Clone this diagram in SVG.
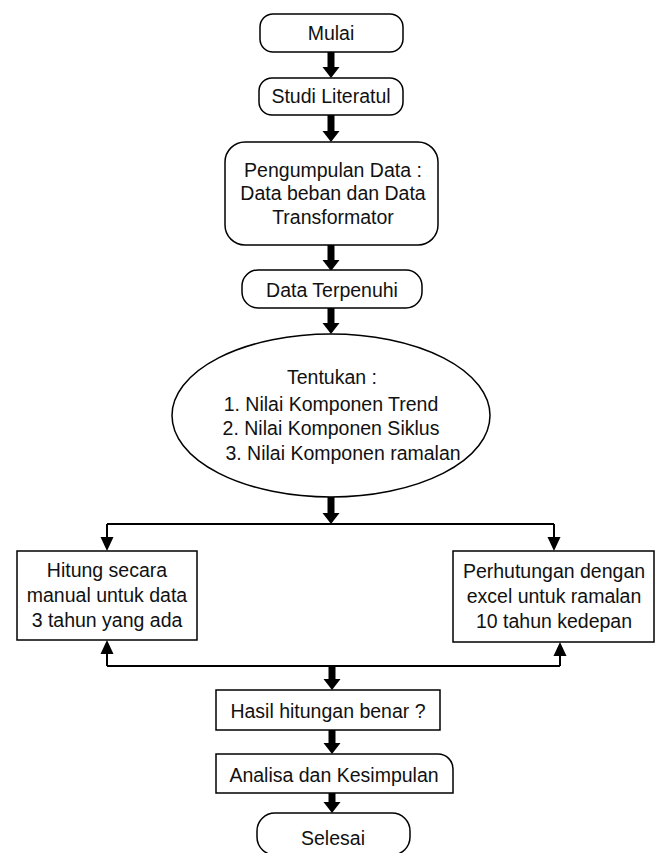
<svg xmlns="http://www.w3.org/2000/svg" width="662" height="853" viewBox="0 0 662 853">
<defs>
<style>
.box{fill:#fff;stroke:#000;stroke-width:1.5}
.t{font-family:"Liberation Sans",Arial,sans-serif;font-size:19.5px;fill:#111;text-anchor:middle}
.thick{stroke:#000;stroke-width:7;fill:none}
.thin{stroke:#000;stroke-width:2;fill:none}
.head{fill:#000}
</style>
</defs>
<rect width="662" height="853" fill="#fff"/>

<g id="connectors">
<path class="thick" d="M331,52 V68"/><path class="head" d="M322.5,67 H339.5 L331,78 Z"/>
<path class="thick" d="M331,115 V132"/><path class="head" d="M322.5,131 H339.5 L331,142 Z"/>
<path class="thick" d="M331,245 V261"/><path class="head" d="M322.5,260 H339.5 L331,271 Z"/>
<path class="thick" d="M331,308 V324"/><path class="head" d="M322.5,323 H339.5 L331,334 Z"/>
<path class="thick" d="M331,497 V514"/><path class="head" d="M322.5,513 H339.5 L331,524 Z"/>
<path class="thick" d="M332,666 V680"/><path class="head" d="M323.5,679 H340.5 L332,690 Z"/>
<path class="thick" d="M332,730 V744"/><path class="head" d="M323.5,743 H340.5 L332,754 Z"/>
<path class="thick" d="M332,793 V803"/><path class="head" d="M323.5,802 H340.5 L332,813 Z"/>
<path class="thin" d="M107,524 H554"/>
<path class="thin" d="M107,524 V538"/><path class="head" d="M100.5,537 H113.5 L107,551 Z"/>
<path class="thin" d="M554,524 V538"/><path class="head" d="M547.5,537 H560.5 L554,551 Z"/>
<path class="thin" d="M107,666 H560"/>
<path class="thin" d="M107,666 V653"/><path class="head" d="M100.5,654 H113.5 L107,640 Z"/>
<path class="thin" d="M560,666 V655"/><path class="head" d="M553.5,656 H566.5 L560,642 Z"/>
</g>

<g id="mulai">
<rect class="box" x="260" y="14" width="143" height="38" rx="13"/>
<text class="t" x="331" y="40">Mulai</text>
</g>

<g id="studi">
<rect class="box" x="259" y="78" width="144" height="37" rx="13"/>
<text class="t" x="331" y="103">Studi Literatul</text>
</g>

<g id="pengumpulan">
<rect class="box" x="225" y="142" width="213" height="103" rx="20"/>
<text class="t" x="333" y="177">Pengumpulan Data :</text>
<text class="t" x="333" y="200">Data beban dan Data</text>
<text class="t" x="333" y="224">Transformator</text>
</g>

<g id="terpenuhi">
<rect class="box" x="242" y="270" width="180" height="38" rx="16"/>
<text class="t" x="332" y="297">Data Terpenuhi</text>
</g>

<g id="tentukan">
<ellipse class="box" cx="331" cy="415.5" rx="159" ry="81.5"/>
<text class="t" x="332" y="384">Tentukan :</text>
<text class="t" x="331" y="411">1. Nilai Komponen Trend</text>
<text class="t" x="331" y="435">2. Nilai Komponen Siklus</text>
<text class="t" x="343" y="460">3. Nilai Komponen ramalan</text>
</g>

<g id="manual">
<rect class="box" x="17" y="551" width="180" height="89"/>
<text class="t" x="107" y="577">Hitung secara</text>
<text class="t" x="107" y="602">manual untuk data</text>
<text class="t" x="107" y="627">3 tahun yang ada</text>
</g>

<g id="excel">
<rect class="box" x="453" y="551" width="201" height="91"/>
<text class="t" x="554" y="578">Perhutungan dengan</text>
<text class="t" x="554" y="603">excel untuk ramalan</text>
<text class="t" x="554" y="628">10 tahun kedepan</text>
</g>

<g id="hasil">
<rect class="box" x="216" y="690" width="224" height="40"/>
<text class="t" x="328" y="718">Hasil hitungan benar ?</text>
</g>

<g id="analisa">
<path class="box" d="M216,754 H438 A15,15 0 0 1 453,769 V793 H216 Z"/>
<text class="t" x="334" y="782">Analisa dan Kesimpulan</text>
</g>

<g id="selesai">
<rect class="box" x="257" y="813" width="153" height="42" rx="18"/>
<text class="t" x="333" y="845">Selesai</text>
</g>
</svg>
